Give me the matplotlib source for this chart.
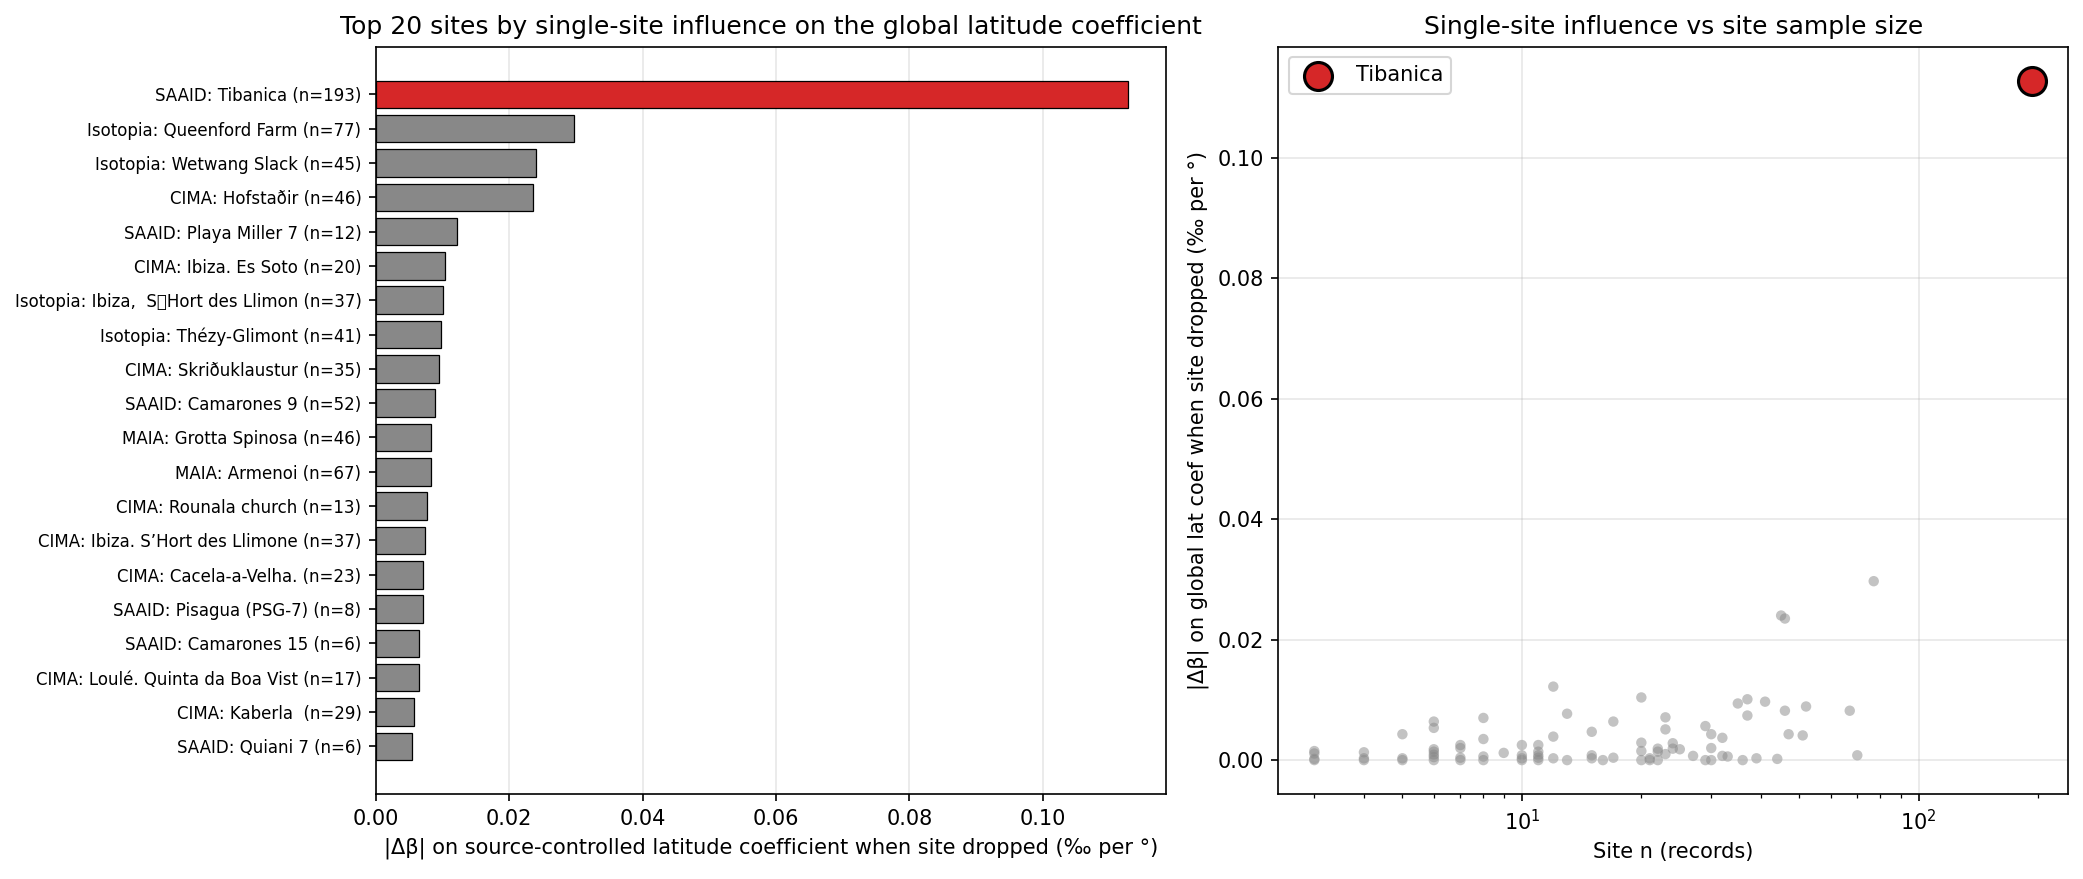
import numpy as np
import matplotlib.pyplot as plt

# top 20 sites (largest first)
site_labels = [
    "SAAID: Tibanica (n=193)",
    "Isotopia: Queenford Farm (n=77)",
    "Isotopia: Wetwang Slack (n=45)",
    "CIMA: Hofstaðir (n=46)",
    "SAAID: Playa Miller 7 (n=12)",
    "CIMA: Ibiza. Es Soto (n=20)",
    "Isotopia: Ibiza,  S\x92Hort des Llimon (n=37)",
    "Isotopia: Thézy-Glimont (n=41)",
    "CIMA: Skriðuklaustur (n=35)",
    "SAAID: Camarones 9 (n=52)",
    "MAIA: Grotta Spinosa (n=46)",
    "MAIA: Armenoi (n=67)",
    "CIMA: Rounala church (n=13)",
    "CIMA: Ibiza. S\u2019Hort des Llimone (n=37)",
    "CIMA: Cacela-a-Velha. (n=23)",
    "SAAID: Pisagua (PSG-7) (n=8)",
    "SAAID: Camarones 15 (n=6)",
    "CIMA: Loulé. Quinta da Boa Vist (n=17)",
    "CIMA: Kaberla  (n=29)",
    "SAAID: Quiani 7 (n=6)",
]
top_n = [193, 77, 45, 46, 12, 20, 37, 41, 35, 52, 46, 67, 13, 37, 23, 8, 6, 17, 29, 6]
top_delta = [0.1128, 0.0297, 0.0240, 0.0235, 0.0122, 0.0104, 0.0101, 0.0097, 0.0094,
             0.0089, 0.0082, 0.0082, 0.0077, 0.0074, 0.0071, 0.0070, 0.0064, 0.0064,
             0.00565, 0.00535]

# remaining sites (scatter only)
other_n = [3, 3, 3, 3, 4, 4, 4, 5, 5, 5, 6, 6, 6, 6, 6, 7, 7, 7, 7, 8, 8, 8, 9,
           10, 10, 10, 10, 11, 11, 11, 11, 11, 12, 12, 13, 15, 15, 15, 16, 17,
           20, 20, 20, 21, 21, 22, 22, 22, 23, 23, 24, 24, 25, 27, 29, 30, 30, 30,
           32, 32, 33, 36, 39, 44, 47, 51, 70]
other_delta = [0.0, 0.0002, 0.0011, 0.0015, 0.0, 0.0003, 0.0013, 0.0043, 0.0003, 0.0,
               0.0018, 0.0014, 0.0009, 0.0005, 0.0, 0.0025, 0.0020, 0.0004, 0.0,
               0.0035, 0.0006, 0.0, 0.0012,
               0.0025, 0.0008, 0.0003, 0.0, 0.0025, 0.0014, 0.0008, 0.0004, 0.0,
               0.0039, 0.0003, 0.0, 0.0047, 0.0008, 0.0003, 0.0, 0.0004,
               0.0029, 0.0015, 0.0, 0.0003, 0.0, 0.0019, 0.0014, 0.0, 0.0051, 0.0010,
               0.0028, 0.0019, 0.0018, 0.0007, 0.0, 0.0043, 0.0020, 0.0,
               0.0037, 0.0007, 0.0006, 0.0, 0.0003, 0.0002, 0.0043, 0.0041, 0.0008]

highlight = "Tibanica"

fig, (ax1, ax2) = plt.subplots(1, 2, figsize=(2083 / 150, 879 / 150), dpi=150)
fig.subplots_adjust(left=0.1805, right=0.9928, bottom=0.0966, top=0.947, wspace=0.143)

colors = ["#d62728" if highlight in s else "#888888" for s in site_labels]
y = np.arange(len(site_labels))
ax1.barh(y, top_delta, color=colors, edgecolor="black", linewidth=0.6)
ax1.set_yticks(y)
ax1.set_yticklabels(site_labels, fontsize=8)
ax1.invert_yaxis()
ax1.set_xlabel("|Δβ| on source-controlled latitude coefficient when site dropped (‰ per °)")
ax1.set_title("Top 20 sites by single-site influence on the global latitude coefficient")
ax1.grid(True, axis="x", alpha=0.3)
ax1.set_axisbelow(True)

all_n = top_n + other_n
all_delta = top_delta + other_delta
ax2.scatter(all_n, all_delta, s=25, color="#888888", alpha=0.5, edgecolors="none")
hi = [i for i, s in enumerate(site_labels) if highlight in s][0]
ax2.scatter([top_n[hi]], [top_delta[hi]], s=180, color="#d62728",
            edgecolors="black", linewidths=1.5, label=highlight, zorder=3)
ax2.set_xscale("log")
ax2.set_xlabel("Site n (records)")
ax2.set_ylabel("|Δβ| on global lat coef when site dropped (‰ per °)")
ax2.set_title("Single-site influence vs site sample size")
ax2.legend(loc="upper left")
ax2.grid(True, alpha=0.3)

plt.savefig("out.png", dpi=150)
